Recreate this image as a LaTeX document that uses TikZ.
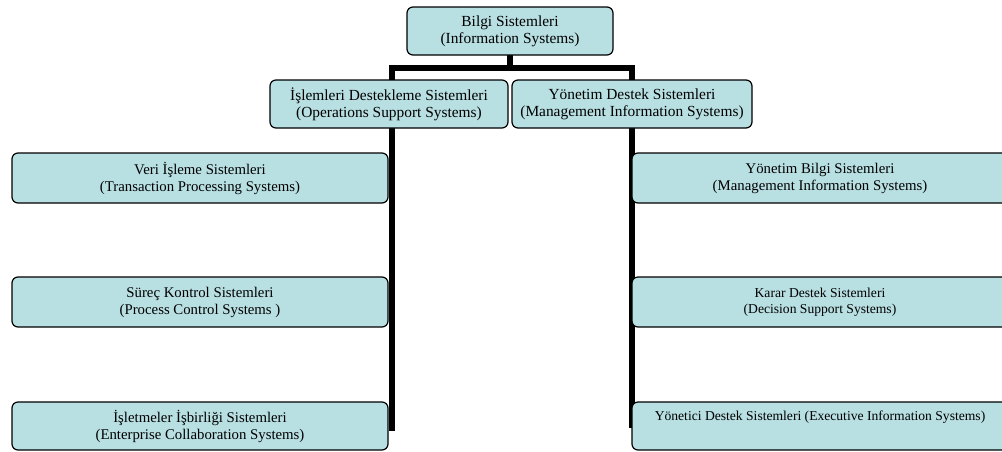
\documentclass[tikz,border=0pt]{standalone}
\usepackage{fontspec}
\setmainfont{Liberation Serif}
\usetikzlibrary{backgrounds}
\definecolor{boxfill}{RGB}{184,223,226}
\tikzset{
  sysbox/.style={draw=black, line width=1.2pt, fill=boxfill, rounded corners=6pt,
    align=center, inner sep=0pt, font=\fontsize{14.8}{17}\selectfont},
  bigtext/.style={font=\fontsize{15.4}{17}\selectfont},
  smalltext/.style={font=\fontsize{13.6}{16.5}\selectfont},
  trunk/.style={line width=5.5pt, line cap=rect, line join=miter}
}
\begin{document}
\begin{tikzpicture}[x=1pt, y=-1pt]
\useasboundingbox (0,0) rectangle (1002,451);
\clip (0,0) rectangle (1002,451);

% root and the two main branches
\node[sysbox, bigtext, minimum width=206pt, minimum height=48pt] (root) at (510,31)
  {Bilgi Sistemleri\\(Information Systems)};
\node[sysbox, bigtext, minimum width=238pt, minimum height=48pt] (ops) at (389,104)
  {İşlemleri Destekleme Sistemleri\\(Operations Support Systems)};
\node[sysbox, bigtext, minimum width=240pt, minimum height=48pt] (mgmt) at (632,104)
  {Yönetim Destek Sistemleri\\(Management Information Systems)};

% operations support systems
\node[sysbox, minimum width=376pt, minimum height=50pt] (tps) at (200,178)
  {Veri İşleme Sistemleri\\(Transaction Processing Systems)};
\node[sysbox, minimum width=376pt, minimum height=50pt] (pcs) at (200,302)
  {Süreç Kontrol Sistemleri\\(Process Control Systems )};
\node[sysbox, minimum width=376pt, minimum height=48pt] (ecs) at (200,426)
  {İşletmeler İşbirliği Sistemleri\\(Enterprise Collaboration Systems)};

% management support systems
\node[sysbox, minimum width=376pt, minimum height=50pt] (mis) at (820,178)
  {Yönetim Bilgi Sistemleri\\(Management Information Systems)};
\node[sysbox, smalltext, minimum width=376pt, minimum height=50pt] (dss) at (820,302)
  {Karar Destek Sistemleri\\(Decision Support Systems)};
\node[sysbox, smalltext, minimum width=376pt, minimum height=48pt] (eis) at (820,426)
  {Yönetici Destek Sistemleri (Executive Information Systems)\\\strut};

% heavy tree lines behind the boxes
\coordinate (lj) at (392,68);
\coordinate (rj) at (632,68);
\coordinate (lend) at (392,428);
\coordinate (rend) at (632,425);
\begin{scope}[on background layer]
  \draw[trunk] (root.south) -- (root.south |- lj);
  \draw[trunk] (lend) -- (lj) -- (rj) -- (rend);
\end{scope}
\end{tikzpicture}
\end{document}
